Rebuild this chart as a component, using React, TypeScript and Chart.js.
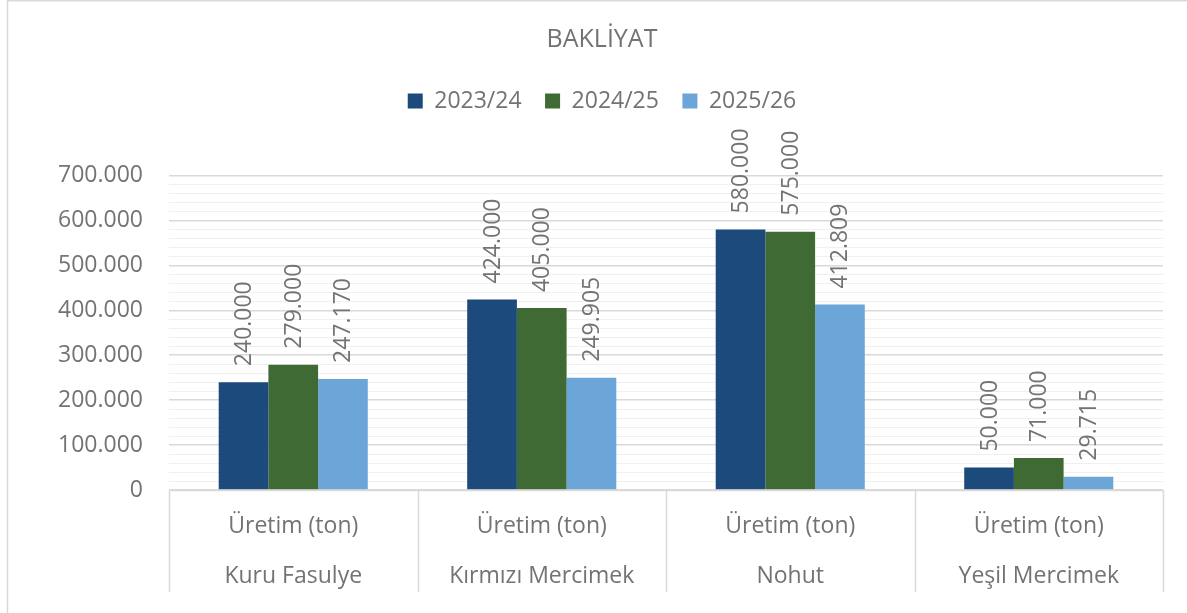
import React, { useEffect, useRef } from 'react';
import { Chart, registerables } from 'chart.js';

Chart.register(...registerables);

const TITLE = 'BAKLİYAT';
const subLabel = 'Üretim (ton)';
const categories = ['Kuru Fasulye', 'Kırmızı Mercimek', 'Nohut', 'Yeşil Mercimek'];
const seriesNames = ['2023/24', '2024/25', '2025/26'];
const values2023 = [240000, 424000, 580000, 50000];
const values2024 = [279000, 405000, 575000, 71000];
const values2025 = [247170, 249905, 412809, 29715];
const yMin = 0;
const yMax = 700000;
const yMajor = 100000;
const yMinor = 20000;

const colors = ['#1b4a7b', '#406a34', '#6ca6d9'];
const FONT = '"Open Sans", sans-serif';
const TEXT = '#737373';
const LINE = '#d9d9d9';
const MINOR = '#f0f0f0';

function fmt(v: number): string {
  return String(Math.round(v)).replace(/\B(?=(\d{3})+(?!\d))/g, '.');
}

const decorPlugin = {
  id: 'decor',
  beforeDraw(chart: any) {
    const ctx = chart.ctx;
    ctx.save();
    ctx.strokeStyle = LINE;
    ctx.lineWidth = 1.5;
    ctx.beginPath();
    ctx.moveTo(7.5, 0);
    ctx.lineTo(7.5, chart.height);
    ctx.moveTo(7.5, 0.75);
    ctx.lineTo(chart.width, 0.75);
    ctx.stroke();
    ctx.restore();
  },
  afterDatasetsDraw(chart: any) {
    const ctx = chart.ctx;
    const area = chart.chartArea;
    ctx.save();
    // value labels
    ctx.font = `23px ${FONT}`;
    ctx.fillStyle = TEXT;
    ctx.textAlign = 'left';
    ctx.textBaseline = 'middle';
    chart.data.datasets.forEach((ds: any, di: number) => {
      const meta = chart.getDatasetMeta(di);
      meta.data.forEach((bar: any, i: number) => {
        const { x, y } = bar.getProps(['x', 'y'], true);
        ctx.save();
        ctx.translate(x + 1, y - 16);
        ctx.rotate(-Math.PI / 2);
        ctx.fillText(fmt(ds.data[i]), 0, 0);
        ctx.restore();
      });
    });
    // multi-level category axis
    const xs = chart.scales.x;
    ctx.strokeStyle = LINE;
    ctx.lineWidth = 1.5;
    ctx.beginPath();
    for (let i = 0; i <= categories.length; i++) {
      const px = Math.round(xs.getPixelForValue(i - 0.5)) + 0.5;
      ctx.moveTo(px, area.bottom);
      ctx.lineTo(px, area.bottom + 102);
    }
    ctx.moveTo(area.left, area.bottom + 0.5);
    ctx.lineTo(area.right, area.bottom + 0.5);
    ctx.stroke();
    ctx.textAlign = 'center';
    ctx.textBaseline = 'alphabetic';
    categories.forEach((c, i) => {
      const cx = xs.getPixelForValue(i);
      ctx.fillText(subLabel, cx, area.bottom + 43);
      ctx.fillText(c, cx, area.bottom + 93);
    });
    ctx.restore();
  },
};

export default function App() {
  const ref = useRef<HTMLCanvasElement | null>(null);
  useEffect(() => {
    if (!ref.current) return;
    const chart = new Chart(ref.current, {
      type: 'bar',
      data: {
        labels: categories,
        datasets: [
          { label: seriesNames[0], data: values2023, backgroundColor: colors[0], borderWidth: 0 },
          { label: seriesNames[1], data: values2024, backgroundColor: colors[1], borderWidth: 0 },
          { label: seriesNames[2], data: values2025, backgroundColor: colors[2], borderWidth: 0 },
        ],
      },
      options: {
        responsive: false,
        animation: false,
        devicePixelRatio: 1,
        layout: { padding: { left: 41, right: 24, top: 0, bottom: 123 } },
        datasets: { bar: { categoryPercentage: 0.6, barPercentage: 1.0 } },
        scales: {
          x: { display: false },
          y: {
            min: yMin,
            max: yMax,
            afterFit: (scale: any) => { scale.width = 128; },
            border: { display: false },
            grid: {
              drawTicks: false,
              color: (c: any) => (c.tick && c.tick.value % yMajor === 0 ? LINE : MINOR),
              lineWidth: (c: any) => (c.tick && c.tick.value % yMajor === 0 ? 1.5 : 1),
            },
            ticks: {
              stepSize: yMinor,
              autoSkip: false,
              padding: 26,
              color: TEXT,
              font: { family: FONT, size: 23 },
              callback: (v: any) => (Number(v) % yMajor === 0 ? fmt(Number(v)) : ''),
            },
          },
        },
        plugins: {
          tooltip: { enabled: false },
          title: {
            display: true,
            text: TITLE,
            color: TEXT,
            font: { family: FONT, size: 25, weight: 'normal' },
            padding: { top: 25, bottom: 11 },
          },
          legend: {
            display: true,
            position: 'top',
            labels: {
              boxWidth: 15,
              boxHeight: 15,
              padding: 23.5,
              color: TEXT,
              font: { family: FONT, size: 23 },
            },
          },
          subtitle: {
            display: true,
            text: '',
            weight: 500,
            font: { size: 10, lineHeight: 1 },
            padding: { top: 0, bottom: 43 },
          },
        },
      } as any,
      plugins: [decorPlugin],
    });
    return () => chart.destroy();
  }, []);
  return (
    <div style={{ position: 'absolute', left: 0, top: 0, width: 1187, height: 613, background: '#fff' }}>
      <canvas ref={ref} width={1187} height={613} />
    </div>
  );
}
